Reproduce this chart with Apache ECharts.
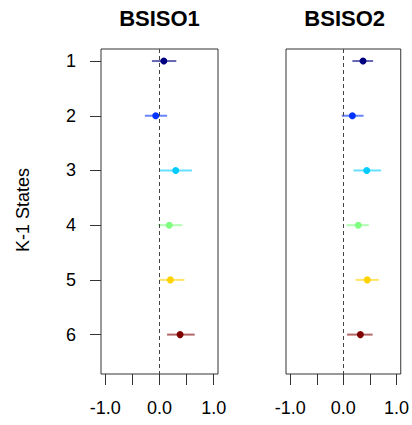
<!DOCTYPE html>
<html>
<head>
<meta charset="utf-8">
<script src="https://cdn.jsdelivr.net/npm/echarts@6/dist/echarts.min.js"></script>
<style>
html,body{margin:0;padding:0;background:#fff;}
#chart{width:412px;height:425px;}
</style>
</head>
<body>
<div id="chart"></div>
<script>
const panelTitles = ['BSISO1', 'BSISO2'];
const states = [1, 2, 3, 4, 5, 6];
const bsiso1Est = [0.08, -0.07, 0.30, 0.18, 0.20, 0.38];
const bsiso1Lo  = [-0.14, -0.27, 0.00, -0.03, 0.00, 0.14];
const bsiso1Hi  = [0.31, 0.14, 0.60, 0.42, 0.46, 0.65];
const bsiso2Est = [0.37, 0.17, 0.44, 0.28, 0.45, 0.32];
const bsiso2Lo  = [0.17, -0.03, 0.19, 0.06, 0.23, 0.07];
const bsiso2Hi  = [0.56, 0.38, 0.71, 0.48, 0.67, 0.55];
const stateColors = ['#000080', '#0033FF', '#00CCFF', '#80FF80', '#FFD200', '#800000'];
const xTickValues = [-1, -0.5, 0, 0.5, 1];
const xLabelValues = [-1, 0, 1];
const yLabel = 'K-1 States';

const FONT = '"Liberation Sans", Arial, sans-serif';
const panels = [
  {est: bsiso1Est, lo: bsiso1Lo, hi: bsiso1Hi, left: 101, center: 159.5, showY: true},
  {est: bsiso2Est, lo: bsiso2Lo, hi: bsiso2Hi, left: 286, center: 344.7, showY: false}
];

const grids = [], xAxes = [], yAxes = [], series = [], graphics = [];
panels.forEach((p, i) => {
  grids.push({left: p.left, top: 49, width: 117, height: 325, show: true,
    borderColor: '#333', borderWidth: 1, backgroundColor: 'transparent', containLabel: false});
  graphics.push({type: 'text', x: p.center, y: 18,
    style: {text: panelTitles[i], font: 'bold 22px ' + FONT, fill: '#000', align: 'center', verticalAlign: 'middle'}});
  xAxes.push({type: 'value', gridIndex: i, min: -1.08, max: 1.08, position: 'bottom',
    splitLine: {show: false}, axisLine: {show: false, onZero: false},
    axisTick: {show: true, inside: false, length: 11, customValues: xTickValues,
      lineStyle: {color: '#333', width: 1}},
    axisLabel: {show: true, customValues: xLabelValues, margin: 25,
      formatter: v => v.toFixed(1), fontFamily: FONT, fontSize: 18, color: '#000'}});
  yAxes.push({type: 'value', gridIndex: i, inverse: true, min: 0.78, max: 6.72, position: 'left',
    splitLine: {show: false}, axisLine: {show: false, onZero: false},
    axisTick: {show: p.showY, inside: false, length: 11, customValues: states,
      lineStyle: {color: '#333', width: 1}},
    axisLabel: {show: p.showY, customValues: states, margin: 25,
      fontFamily: FONT, fontSize: 18, color: '#000'}});
  const barData = states.map((s, k) => [p.lo[k], p.hi[k], s, k]);
  series.push({type: 'custom', xAxisIndex: i, yAxisIndex: i, silent: true,
    encode: {x: [0, 1], y: 2},
    data: barData,
    renderItem: (params, api) => {
      const a = api.coord([api.value(0), api.value(2)]);
      const b = api.coord([api.value(1), api.value(2)]);
      return {type: 'line', shape: {x1: a[0], y1: a[1], x2: b[0], y2: b[1]},
        style: {stroke: stateColors[api.value(3)], lineWidth: 2, opacity: 0.6}};
    }});
  series.push({type: 'scatter', xAxisIndex: i, yAxisIndex: i, silent: true,
    symbol: 'circle', symbolSize: 7,
    data: states.map((s, k) => [p.est[k], s]),
    itemStyle: {color: params => stateColors[params.dataIndex], opacity: 1},
    markLine: {silent: true, symbol: ['none', 'none'], label: {show: false},
      lineStyle: {color: '#444', width: 1, type: [4, 3]},
      data: [{xAxis: 0}]},
    z: 3});
});
graphics.push({type: 'text', x: 22.5, y: 210, rotation: Math.PI / 2,
  style: {text: yLabel, font: '18px ' + FONT, fill: '#000', align: 'center', verticalAlign: 'middle'}});

const chart = echarts.init(document.getElementById('chart'), null, {renderer: 'svg'});
chart.setOption({
  animation: false,
  backgroundColor: '#fff',
  grid: grids,
  xAxis: xAxes,
  yAxis: yAxes,
  series: series,
  graphic: graphics
});
</script>
</body>
</html>
